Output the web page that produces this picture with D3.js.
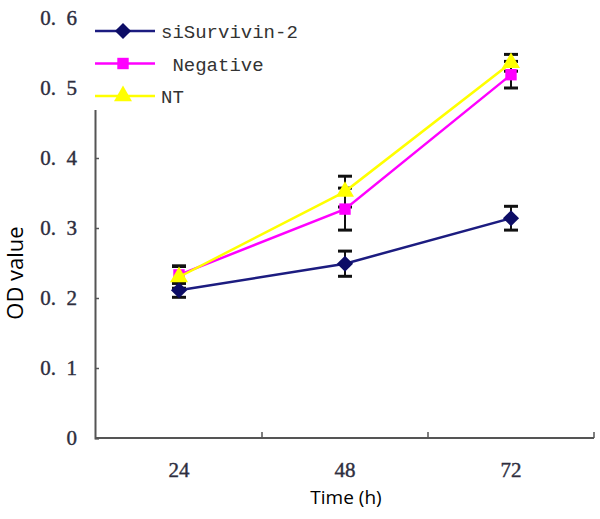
<!DOCTYPE html>
<meta charset="utf-8">
<head>
<script src="https://d3js.org/d3.v7.min.js"></script>
<style>
body { margin: 0; background: #fff; }
svg { display: block; }
</style>
</head>
<body>
<div id="chart"></div>

<script>
// data
var times = ["24", "48", "72"];
var yTicks = [0, 0.1, 0.2, 0.3, 0.4, 0.5, 0.6];

var siSurvivin = [0.211, 0.249, 0.314];
var siSurvivinErr = [0.010, 0.018, 0.017];
var negative = [0.233, 0.327, 0.519];
var negativeErr = [0.012, 0.030, 0.019];
var nt = [0.230, 0.352, 0.536];
var ntErr = [0.016, 0.022, 0.012];

var seriesNames = ["siSurvivin-2", " Negative", "NT"];

var W = 600, H = 519;
var svg = d3.select("#chart").append("svg")
    .attr("width", W).attr("height", H);

var x = d3.scaleBand().domain(times).range([96, 594]);
var y = d3.scaleLinear().domain([0, 0.6]).range([438, 18]);

// diamond drawn as a square turned 45 degrees
var squareDiamond = {
  draw: function(ctx, size) {
    var r = Math.sqrt(size / 2);
    ctx.moveTo(0, -r); ctx.lineTo(r, 0); ctx.lineTo(0, r); ctx.lineTo(-r, 0); ctx.closePath();
  }
};

var series = [
  {name: seriesNames[0], vals: siSurvivin, err: siSurvivinErr, color: "#1c1c80", fill: "#0d0d66", shape: squareDiamond, size: 130},
  {name: seriesNames[1], vals: negative, err: negativeErr, color: "#ff00ff", fill: "#ff00ff", shape: d3.symbolSquare, size: 130},
  {name: seriesNames[2], vals: nt, err: ntErr, color: "#ffff00", fill: "#ffff00", shape: d3.symbolTriangle, size: 140}
];

// y axis
var yAxis = d3.axisLeft(y)
    .tickValues(yTicks)
    .tickSize(-4)
    .tickPadding(18)
    .tickFormat(function(d) { return d === 0 ? "0" : d3.format(".1f")(d).replace(".", ".\u2002"); });

var gy = svg.append("g").attr("transform", "translate(95,0)").call(yAxis);
gy.select(".domain").attr("stroke", "#555").attr("stroke-width", 2);
gy.selectAll(".tick line").attr("stroke", "#555").attr("stroke-width", 1.5);
gy.selectAll("text")
    .attr("font-family", "Liberation Serif, DejaVu Serif, serif")
    .attr("font-size", 21)
    .attr("fill", "#2e2e3e")
    .attr("stroke", "#2e2e3e").attr("stroke-width", 0.4);

// x axis
var xAxis = d3.axisBottom(x).tickSize(0).tickPadding(24);
var gx = svg.append("g").attr("transform", "translate(0,438)").call(xAxis);
gx.select(".domain").remove();
gx.selectAll("text")
    .attr("font-family", "Liberation Serif, DejaVu Serif, serif")
    .attr("font-size", 21)
    .attr("fill", "#2e2e3e")
    .attr("stroke", "#2e2e3e").attr("stroke-width", 0.4);

svg.append("line")
    .attr("x1", x.range()[0]).attr("x2", x.range()[1])
    .attr("y1", y(0)).attr("y2", y(0))
    .attr("stroke", "#555").attr("stroke-width", 2);

// upward ticks at band edges
svg.selectAll(".xedge")
  .data(times)
  .enter().append("line")
    .attr("x1", function(d) { return x(d) + x.step(); })
    .attr("x2", function(d) { return x(d) + x.step(); })
    .attr("y1", y(0)).attr("y2", y(0) - 6)
    .attr("stroke", "#555").attr("stroke-width", 1.5);

// titles
svg.append("text")
    .attr("x", 346).attr("y", 504)
    .attr("text-anchor", "middle")
    .attr("font-family", "Open Sans, Noto Sans, sans-serif")
    .attr("font-size", 19)
    .text("Time (h)");

svg.append("text")
    .attr("transform", "translate(23,273) rotate(-90)")
    .attr("text-anchor", "middle")
    .attr("font-family", "Open Sans, Noto Sans, sans-serif")
    .attr("font-size", 22)
    .text("OD value");

var cx = function(i) { return x(times[i]) + x.bandwidth() / 2; };
var line = d3.line().x(function(d, i) { return cx(i); }).y(function(d) { return y(d); });

// error bars
series.forEach(function(s) {
  var g = svg.append("g");
  s.vals.forEach(function(v, i) {
    var x0 = cx(i);
    g.append("line").attr("x1", x0).attr("x2", x0)
      .attr("y1", y(v - s.err[i])).attr("y2", y(v + s.err[i]))
      .attr("stroke", "#111").attr("stroke-width", 2);
    [v - s.err[i], v + s.err[i]].forEach(function(e) {
      g.append("line").attr("x1", x0 - 7).attr("x2", x0 + 7)
        .attr("y1", y(e)).attr("y2", y(e))
        .attr("stroke", "#111").attr("stroke-width", 3);
    });
  });
});

// lines and markers
series.forEach(function(s) {
  svg.append("path")
    .datum(s.vals)
    .attr("d", line)
    .attr("fill", "none")
    .attr("stroke", s.color)
    .attr("stroke-width", 2.5);
  svg.selectAll(null)
    .data(s.vals)
    .enter().append("path")
    .attr("d", d3.symbol().type(s.shape).size(s.size))
    .attr("transform", function(d, i) { return "translate(" + cx(i) + "," + y(d) + ")"; })
    .attr("fill", s.fill);
});

// legend (white box covers top of axis)
var lg = svg.append("g");
lg.append("rect").attr("x", 88).attr("y", 0).attr("width", 250).attr("height", 110).attr("fill", "#fff");
series.forEach(function(s, i) {
  var ly = 31 + i * 32.5;
  lg.append("line").attr("x1", 95).attr("x2", 155).attr("y1", ly).attr("y2", ly)
    .attr("stroke", s.color).attr("stroke-width", 2.5);
  lg.append("path")
    .attr("d", d3.symbol().type(s.shape).size(s.size))
    .attr("transform", "translate(123," + ly + ")")
    .attr("fill", s.fill);
  lg.append("text")
    .attr("x", 161).attr("y", ly + 7)
    .attr("xml:space", "preserve")
    .style("white-space", "pre")
    .attr("font-family", "Liberation Mono, DejaVu Sans Mono, monospace")
    .attr("font-size", 19)
    .attr("fill", "#333")
    .text(s.name);
});
</script>
</body>
